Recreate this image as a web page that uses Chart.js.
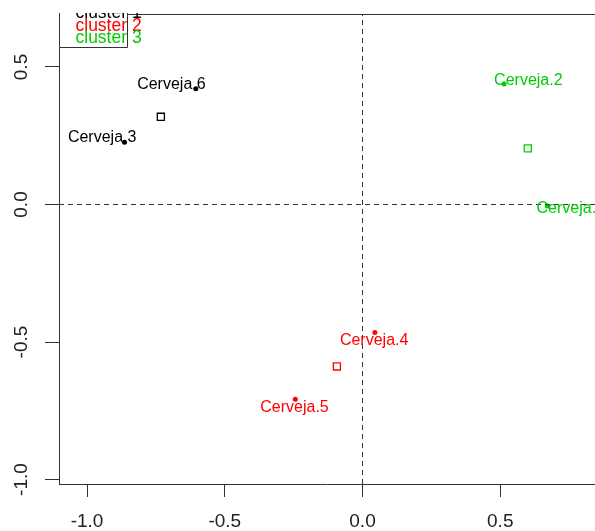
<!DOCTYPE html>
<html><head><meta charset="utf-8">
<script src="https://cdn.jsdelivr.net/npm/chart.js@4"></script>
<style>html,body{margin:0;padding:0;background:#fff;}canvas{display:block;}</style>
</head><body>
<canvas id="c" width="595" height="531"></canvas>
<script>
// ---------- data ----------
const beerNames   = ['Cerveja.1','Cerveja.2','Cerveja.3','Cerveja.4','Cerveja.5','Cerveja.6'];
const beerX       = [0.671, 0.514, -0.864, 0.045, -0.244, -0.605];
const beerY       = [-0.005, 0.438, 0.226, -0.465, -0.708, 0.421];
const beerCluster = [3, 3, 1, 2, 2, 1];
const clusterNames = ['cluster 1','cluster 2','cluster 3'];
const centerX     = [-0.732, -0.093, 0.600];
const centerY     = [0.319, -0.589, 0.204];
const xTicks      = [-1.0, -0.5, 0.0, 0.5];
const xTickLabels = ['-1.0','-0.5','0.0','0.5'];
const yTicks      = [-1.0, -0.5, 0.0, 0.5];
const yTickLabels = ['-1.0','-0.5','0.0','0.5'];
const X_MIN = -1.1018, X_MAX = 0.844, Y_MIN = -1.0163, Y_MAX = 0.6927;

// ---------- style ----------
const clusterColors = ['#000000','#FF0000','#00CD00'];
const FONT = "'Liberation Sans', Arial, sans-serif";
const AXIS = '#333333';
const labelOffsets = [[-10.8,6.7],[-10,1],[-56.6,0],[-35,13],[-35,12.7],[-58.7,0]];

const datasets = [];
datasets.push({type:'line', data:[{x:X_MIN,y:0},{x:X_MAX,y:0}], borderColor:'#333', borderWidth:1, borderDash:[5,4], pointRadius:0, fill:false});
datasets.push({type:'line', data:[{x:0,y:Y_MIN},{x:0,y:Y_MAX}], borderColor:'#333', borderWidth:1, borderDash:[5,4], pointRadius:0, fill:false});
for (let k = 0; k < 3; k++) {
  const pts = [];
  beerX.forEach((x,i)=>{ if (beerCluster[i] === k+1) pts.push({x:x, y:beerY[i]}); });
  datasets.push({type:'scatter', data:pts, pointStyle:'circle', pointRadius:2.5, pointBackgroundColor:clusterColors[k], pointBorderWidth:0});
}
for (let k = 0; k < 3; k++) {
  datasets.push({type:'scatter', data:[{x:centerX[k], y:centerY[k]}], pointStyle:'rect', pointRadius:5, pointBackgroundColor:'rgba(0,0,0,0)', pointBorderColor:clusterColors[k], pointBorderWidth:1.3});
}

const overlay = {
  id:'overlay',
  afterDatasetsDraw(chart){
    const ctx = chart.ctx, xs = chart.scales.x, ys = chart.scales.y, a = chart.chartArea;
    ctx.save();
    // box top line
    ctx.strokeStyle = AXIS; ctx.lineWidth = 1;
    ctx.beginPath(); ctx.moveTo(a.left, a.top + 0.5); ctx.lineTo(a.right, a.top + 0.5); ctx.stroke();
    // point labels
    ctx.font = '16px ' + FONT; ctx.textAlign = 'left'; ctx.textBaseline = 'alphabetic';
    beerNames.forEach((n,i)=>{
      ctx.fillStyle = clusterColors[beerCluster[i]-1];
      const px = xs.getPixelForValue(beerX[i]), py = ys.getPixelForValue(beerY[i]);
      ctx.fillText(n, px + labelOffsets[i][0], py + labelOffsets[i][1]);
    });
    // y tick labels (rotated like R)
    ctx.font = '19px ' + FONT; ctx.fillStyle = '#222'; ctx.textAlign = 'center';
    yTicks.forEach((v,i)=>{
      const py = ys.getPixelForValue(v);
      ctx.save(); ctx.translate(26.5, py); ctx.rotate(-Math.PI/2);
      ctx.fillText(yTickLabels[i], 0, 0); ctx.restore();
    });
    // legend (clipped at top like the reference)
    ctx.save();
    ctx.beginPath(); ctx.rect(0, 13, chart.width, chart.height); ctx.clip();
    ctx.fillStyle = '#fff'; ctx.fillRect(a.left, -20, 68, 67.5);
    ctx.strokeStyle = AXIS;
    ctx.beginPath(); ctx.moveTo(a.left + 0.5, -20); ctx.lineTo(a.left + 0.5, 47.5); ctx.lineTo(a.left + 68.5, 47.5); ctx.lineTo(a.left + 68.5, -20); ctx.stroke();
    ctx.font = '17.5px ' + FONT; ctx.textAlign = 'left';
    clusterNames.forEach((n,k)=>{
      ctx.fillStyle = clusterColors[k];
      ctx.fillText(n, 75.5, 18.2 + 12.5*k);
    });
    ctx.restore();
    ctx.restore();
  }
};

new Chart(document.getElementById('c'), {
  data:{datasets},
  options:{
    responsive:false, animation:false, devicePixelRatio:1,
    layout:{autoPadding:false, padding:{top:14, right:0, left:0, bottom:0}},
    plugins:{legend:{display:false}, tooltip:{enabled:false}},
    scales:{
      x:{type:'linear', position:'bottom', min:X_MIN, max:X_MAX,
         afterBuildTicks:(s)=>{ s.ticks = xTicks.map(v=>({value:v})); },
         afterFit:(s)=>{ s.height = 47; s.paddingLeft = 0; s.paddingRight = 0; },
         ticks:{autoSkip:false, maxRotation:0, padding:13, color:'#222', font:{family:FONT, size:19},
                callback:(v)=>{ const i = xTicks.indexOf(v); return i >= 0 ? xTickLabels[i] : ''; }},
         grid:{drawOnChartArea:false, drawTicks:true, tickLength:13, color:AXIS, lineWidth:1},
         border:{display:true, color:AXIS, width:1}},
      y:{type:'linear', position:'left', min:Y_MIN, max:Y_MAX,
         afterBuildTicks:(s)=>{ s.ticks = yTicks.map(v=>({value:v})); },
         afterFit:(s)=>{ s.width = 59; s.paddingTop = 0; s.paddingBottom = 0; },
         ticks:{display:false},
         grid:{drawOnChartArea:false, drawTicks:true, tickLength:14, color:AXIS, lineWidth:1},
         border:{display:true, color:AXIS, width:1}}
    }
  },
  plugins:[overlay]
});
</script>
</body></html>
